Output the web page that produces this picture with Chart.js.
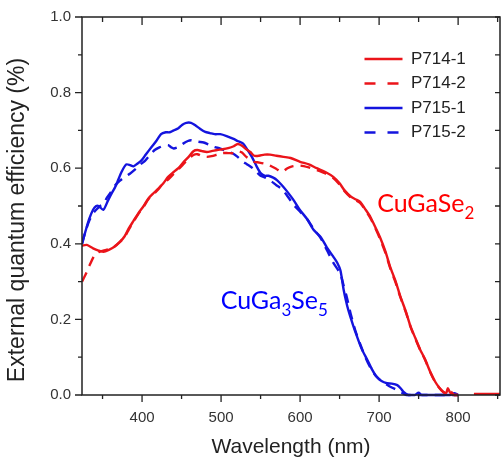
<!DOCTYPE html>
<html><head><meta charset="utf-8">
<script src="https://cdn.jsdelivr.net/npm/chart.js@4.4.1/dist/chart.umd.min.js"></script>
<style>html,body{margin:0;padding:0;background:#fff;}#wrap{width:501px;height:462px;}</style>
</head><body><div id="wrap"><canvas id="c" width="501" height="462"></canvas></div>
<script>
// ---- data ----
const seriesLabels = ['P714-1', 'P714-2', 'P715-1', 'P715-2'];
const xTickLabels = [400, 500, 600, 700, 800];
const yTickLabels = [0.0, 0.2, 0.4, 0.6, 0.8, 1.0];

const wl714_1 = [324,330,338,345,351,358,365,372,378,383,389,395,402,408,415,421,427,433,440,446,452,459,465,470,476,482,488,495,502,509,516,521,526,532,537,542,548,555,562,570,579,588,600,611,621,632,642,650,656,664,670,676,683,689,695,701,708,714,721,727,734,740,746,752,758,765,771,776,781,785,787,790,795,800,810,820,835,853];
const eqe714_1 = [.395,.397,.388,.382,.379,.384,.392,.405,.42,.44,.46,.48,.50,.52,.535,.547,.56,.577,.59,.60,.615,.63,.645,.648,.645,.643,.645,.648,.65,.653,.658,.664,.66,.65,.643,.633,.633,.636,.636,.633,.63,.627,.617,.61,.60,.59,.577,.56,.542,.525,.518,.511,.49,.471,.445,.418,.38,.339,.30,.26,.22,.18,.15,.12,.095,.06,.035,.02,.009,.006,.018,.006,0,0,null,.003,.003,.003];

const wl714_2 = [324,330,334,340,345,351,358,365,372,378,383,389,395,402,408,415,421,427,433,440,446,452,459,465,470,476,482,488,495,502,509,516,521,526,532,537,542,548,555,562,570,577,584,590,600,611,621,632,642,650,656,664,670,676,683,689,695,701,708,714,721,727,734,740,746,752,758,765,771,776,781,785,790,795,800];
const eqe714_2 = [.30,.325,.345,.37,.378,.382,.386,.393,.405,.418,.437,.458,.478,.498,.518,.532,.545,.562,.57,.585,.597,.61,.625,.635,.637,.632,.63,.632,.636,.64,.64,.64,.645,.642,.63,.623,.617,.615,.612,.607,.598,.59,.6,.605,.607,.602,.595,.586,.574,.557,.54,.523,.516,.508,.488,.468,.442,.414,.376,.336,.297,.258,.218,.179,.148,.119,.094,.059,.034,.019,.008,.004,.01,0,0];

const wl715_1 = [324,328,333,338,342,345,351,357,362,366,370,374,380,385,389,394,399,405,412,418,424,430,435,440,446,451,456,462,467,473,480,486,492,499,507,515,521,528,533,539,545,550,555,560,566,571,577,583,592,600,609,617,626,634,642,647,651,655,658,661,667,672,678,685,691,697,703,710,716,723,728,731,737,745,750,754,790,795,800];
const eqe715_1 = [.40,.43,.465,.49,.50,.50,.49,.515,.535,.55,.57,.59,.61,.608,.605,.612,.62,.637,.656,.672,.69,.695,.695,.70,.706,.715,.72,.72,.714,.705,.696,.693,.69,.69,.685,.678,.672,.665,.65,.63,.605,.587,.58,.58,.575,.568,.555,.54,.515,.489,.465,.437,.418,.39,.366,.35,.33,.28,.25,.225,.185,.155,.122,.093,.068,.048,.037,.031,.03,.026,.016,.008,0,0,.006,0,0,.005,0];

const wl715_2 = [324,328,333,338,342,347,351,355,360,366,372,378,385,392,398,404,410,416,422,428,433,437,440,446,452,458,462,467,471,478,485,492,499,507,515,521,528,533,540,545,550,556,562,570,577,583,592,600,609,617,626,634,642,651,655,659,664,670,676,683,689,695,701,708,716,723,730,735,800];
const eqe715_2 = [.40,.43,.46,.48,.49,.50,.505,.52,.535,.555,.567,.577,.586,.598,.61,.62,.635,.648,.655,.66,.661,.655,.652,.656,.665,.672,.674,.672,.67,.668,.662,.656,.652,.645,.639,.63,.617,.61,.60,.59,.58,.575,.568,.555,.545,.529,.503,.485,.465,.44,.415,.383,.35,.32,.29,.26,.215,.17,.135,.098,.072,.053,.04,.03,.02,.013,.005,0,0];

const annotCGS = [['CuGaSe', false], ['2', true]];
const annotCGS5 = [['CuGa', false], ['3', true], ['Se', false], ['5', true]];

// ---- chart ----
const RED = 'rgb(235,20,26)';
const BLUE = 'rgb(20,20,222)';
const FONT = "'Liberation Sans', Arial, sans-serif";
Chart.defaults.font.family = FONT;

const pts = (xs, ys) => xs.map((x, i) => ({x: x, y: ys[i]}));
const mk = (label, xs, ys, color, dashed) => ({
  label: label, data: pts(xs, ys), borderColor: color, backgroundColor: color,
  borderWidth: 2.4, borderDash: dashed ? [10, 7] : [], pointRadius: 0, tension: 0.25,
  fill: false, spanGaps: false
});

const framePlugin = {
  id: 'frame',
  afterLayout(chart) {
    const lg = chart.legend;
    if (lg) {
      lg.left = 357; lg.right = 500; lg.top = 43; lg.bottom = 170;
      lg.width = lg.right - lg.left; lg.height = lg.bottom - lg.top;
    }
    const ys = chart.scales.y;
    ys.bottom += 28;
  },
  afterDatasetsDraw(chart) {
    const ctx = chart.ctx, a = chart.chartArea, xs = chart.scales.x, ys = chart.scales.y;
    ctx.save();
    ctx.strokeStyle = '#222'; ctx.lineWidth = 1.5;
    ctx.strokeRect(a.left, a.top, a.right - a.left, a.bottom - a.top);
    ctx.lineWidth = 1.3;
    ctx.beginPath();
    for (let v = 350; v <= 850; v += 50) {
      const p = xs.getPixelForValue(v);
      const len = v % 100 === 0 ? 7 : 4;
      ctx.moveTo(p, a.bottom); ctx.lineTo(p, a.bottom + len);
      ctx.moveTo(p, a.top); ctx.lineTo(p, a.top + len + 1);
    }
    for (let k = 0; k <= 10; k++) {
      const p = ys.getPixelForValue(k / 10);
      const len = k % 2 === 0 ? 7 : 4;
      ctx.moveTo(a.left, p); ctx.lineTo(a.left - len, p);
      ctx.moveTo(a.right, p); ctx.lineTo(a.right - 5, p);
    }
    ctx.stroke();
    // compound labels with subscripts
    const rich = (segs, x, y, color) => {
      let cx = x;
      ctx.fillStyle = color; ctx.textBaseline = 'alphabetic'; ctx.textAlign = 'left';
      for (const [t, sub] of segs) {
        ctx.font = sub ? '17px Lato' : '25px Lato';
        ctx.fillText(t, cx, sub ? y + 7 : y);
        cx += ctx.measureText(t).width;
      }
    };
    rich(annotCGS, xs.getPixelForValue(697.5), ys.getPixelForValue(0.485), 'rgb(255,0,0)');
    rich(annotCGS5, xs.getPixelForValue(499.5), ys.getPixelForValue(0.228), 'rgb(0,0,255)');
    ctx.restore();
  }
};

new Chart(document.getElementById('c'), {
  type: 'line',
  data: {
    datasets: [
      mk(seriesLabels[0], wl714_1, eqe714_1, RED, false),
      mk(seriesLabels[1], wl714_2, eqe714_2, RED, true),
      mk(seriesLabels[2], wl715_1, eqe715_1, BLUE, false),
      mk(seriesLabels[3], wl715_2, eqe715_2, BLUE, true)
    ]
  },
  options: {
    responsive: false, animation: false, devicePixelRatio: 1,
    layout: {padding: {top: 17, right: 1, left: 0, bottom: 0}},
    plugins: {
      tooltip: {enabled: false},
      legend: {
        position: 'chartArea', fullSize: false, align: 'start',
        labels: {
          usePointStyle: true, pointStyle: 'line', pointStyleWidth: 38,
          font: {size: 17, family: FONT}, color: '#222', padding: 7.5,
          generateLabels: chart => chart.data.datasets.map((d, i) => ({
            text: d.label, fillStyle: d.borderColor, strokeStyle: d.borderColor,
            lineWidth: 2.6, lineDash: d.borderDash.length ? [11, 12] : [], lineCap: 'butt',
            pointStyle: 'line', hidden: false, datasetIndex: i, fontColor: '#222'
          }))
        }
      }
    },
    scales: {
      x: {
        type: 'linear', min: 324, max: 853, position: 'bottom',
        grid: {display: false}, border: {display: false},
        afterBuildTicks: s => { s.ticks = xTickLabels.map(v => ({value: v})); },
        afterFit: s => { s.height = 67; },
        ticks: {font: {size: 15}, color: '#333', padding: 6, maxRotation: 0, callback: v => String(v)},
        title: {display: true, text: 'Wavelength (nm)', font: {size: 21}, color: '#222', padding: {top: 0, bottom: 2}}
      },
      y: {
        type: 'linear', min: 0, max: 1,
        grid: {display: false}, border: {display: false},
        afterBuildTicks: s => { s.ticks = yTickLabels.map(v => ({value: v})); },
        afterFit: s => { s.width = 82; },
        ticks: {font: {size: 15}, color: '#333', padding: 3, callback: v => Number(v).toFixed(1)},
        title: {display: true, text: 'External quantum efficiency (%)', font: {size: 23}, color: '#222', padding: {top: 4, bottom: 0}}
      }
    }
  },
  plugins: [framePlugin]
});
</script></body></html>
